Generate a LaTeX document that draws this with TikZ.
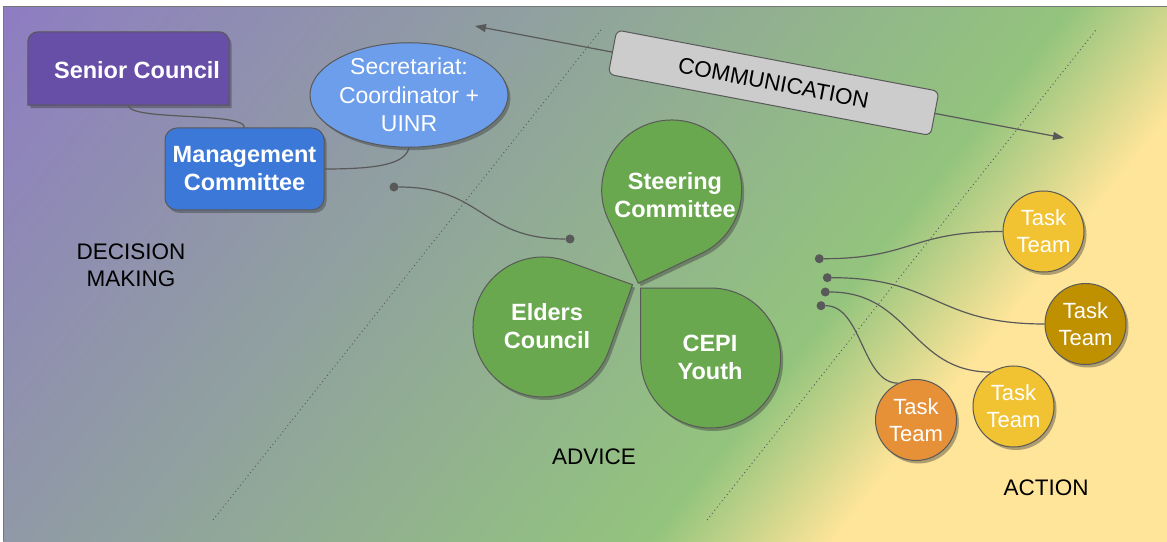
\documentclass[tikz,border=0pt]{standalone}
\usepackage{fontspec}
\setmainfont{Liberation Sans}
\usetikzlibrary{calc,shapes.geometric,shadows,arrows.meta}
\definecolor{bgpurple}{HTML}{8E7CC3}
\definecolor{bggreen}{HTML}{93C47D}
\definecolor{bgyellow}{HTML}{FFE599}
\definecolor{scpurple}{HTML}{674EA7}
\definecolor{mcblue}{HTML}{3C78D8}
\definecolor{secblue}{HTML}{6D9EEB}
\definecolor{leafgreen}{HTML}{6AA84F}
\definecolor{ttyellow}{HTML}{F1C232}
\definecolor{ttgold}{HTML}{BF9000}
\definecolor{ttorange}{HTML}{E69138}
\definecolor{linegray}{HTML}{595959}
\definecolor{boxgray}{HTML}{CCCCCC}
\definecolor{framegray}{HTML}{777777}
\pgfdeclarehorizontalshading{bgshade}{100bp}{color(0bp)=(bgpurple); color(25.57bp)=(bgpurple); color(58.58bp)=(bggreen); color(64.24bp)=(bgyellow); color(100bp)=(bgyellow)}
\begin{document}
\begin{tikzpicture}[x=1pt,y=1pt,
  shadowed/.style={drop shadow={shadow xshift=2.5pt,shadow yshift=-3pt,opacity=0.4,fill=black!80}},
  outline/.style={draw=linegray,line width=1pt},
  boldtext/.style={text=white,font=\fontsize{23.5}{28}\selectfont\bfseries,align=center},
  mcbox/.style={rectangle,rounded corners=12pt,outline,fill=mcblue,shadowed,minimum width=159pt,minimum height=82pt,inner sep=0pt,boldtext},
  secnode/.style={ellipse,outline,fill=secblue,shadowed,minimum width=170pt,minimum height=102pt,inner sep=0pt,text=white,font=\fontsize{23}{28.5}\selectfont,align=center},
  leaf/.style={outline,fill=leafgreen,shadowed},
  ttnode/.style={circle,outline,shadowed,minimum size=81pt,inner sep=0pt,text=white,font=\fontsize{22}{27}\selectfont,align=center},
  dotnode/.style={circle,fill=linegray,inner sep=0pt,minimum size=9pt},
  connector/.style={draw=linegray,line width=1.2pt},
  divider/.style={draw=linegray,line width=0.9pt,dash pattern=on 1pt off 3pt},
  labeltext/.style={text=black,font=\fontsize{22.5}{27}\selectfont,align=center},
  commbox/.style={rectangle,rounded corners=6pt,outline,fill=boxgray,minimum width=328pt,minimum height=45pt,inner sep=0pt,text=black,font=\fontsize{22.5}{27}\selectfont}
]
\useasboundingbox (0,0) rectangle (1167,541);
\fill[white] (0,0) rectangle (1167,541);
% background gradient
\begin{scope}
  \clip (3,0) rectangle (1167,534);
  \begin{scope}[transform canvas={rotate=-38.3}]
    \shade[shading=bgshade] (-350,-10) rectangle (930,1160);
  \end{scope}
\end{scope}
\draw[framegray,line width=1pt] (3,0) -- (3,534) -- (1167,534);

% dotted dividers
\coordinate (d1a) at (213,21);
\coordinate (d1b) at (601,511);
\coordinate (d2a) at (707,21);
\coordinate (d2b) at (1096,511);
\draw[divider] (d1a) -- (d1b);
\draw[divider] (d2a) -- (d2b);

% communication arrow
\coordinate (cl) at (475,515);
\coordinate (cr) at (1064,403);
\draw[connector,{Triangle[length=11pt,width=8pt]}-{Triangle[length=11pt,width=8pt]}] (cl) -- (cr)
  node[commbox,pos=0.507,sloped] (comm) {COMMUNICATION};

% Senior Council
\node[minimum width=201pt,minimum height=73pt,inner sep=0pt] (sc) at (128.5,472.5) {};
\draw[outline,fill=scpurple,shadowed] (sc.south west) -- ([yshift=-10pt]sc.north west)
  arc[start angle=180,end angle=90,radius=10pt] -- ([xshift=-10pt]sc.north east)
  arc[start angle=90,end angle=0,radius=10pt] -- (sc.south east) -- cycle;
\node[boldtext] (sct) at (137,471) {Senior Council};

% Management Committee
\node[mcbox] (mc) at (244.5,372) {Management\\Committee};

% Secretariat
\node[secnode] (sec) at (409,446) {Secretariat:\\Coordinator +\\UINR};

\draw[connector] (sc.south) .. controls +(0,-16) and +(0,16) .. (mc.north);
\draw[connector] (mc.east) .. controls +(55,0) and +(-4,-16) .. (sec.south);

% dots E-F
\node[dotnode] (dE) at (394,354) {};
\node[dotnode] (dF) at (570,302) {};
\draw[connector] (dE) .. controls +(90,0) and +(-90,0) .. (dF);

% teardrops
\coordinate (stc) at (671.7,351);
\coordinate (elc) at (543,214);
\coordinate (cec) at (710.7,183);
\draw[leaf] ($(stc)+(250.3:98.99)$) -- ++(385.3:70) arc[start angle=295.3,end angle=565.3,radius=70] -- cycle;
\draw[leaf] ($(elc)+(25.3:98.99)$) -- ++(160.3:70) arc[start angle=70.3,end angle=340.3,radius=70] -- cycle;
\draw[leaf] ($(cec)+(135:98.99)$) -- ++(270:70) arc[start angle=180,end angle=450,radius=70] -- cycle;
\node[boldtext] (stt) at (675,346) {Steering\\Committee};
\node[boldtext] (elt) at (547,215) {Elders\\Council};
\node[boldtext] (cet) at (710,184) {CEPI\\Youth};

% task teams
\node[ttnode,fill=ttyellow] (tt1) at (1043.5,309.5) {Task\\Team};
\node[ttnode,fill=ttgold] (tt2) at (1085.5,217) {Task\\Team};
\node[ttnode,fill=ttyellow] (tt3) at (1013.5,134.5) {Task\\Team};
\node[ttnode,fill=ttorange] (tt4) at (916,121) {Task\\Team};

\node[dotnode] (dA) at (819.3,282.3) {};
\node[dotnode] (dB) at (827.3,263.3) {};
\node[dotnode] (dC) at (825.3,249) {};
\node[dotnode] (dD) at (821,235.3) {};
\draw[connector] (dA) .. controls +(92,0) and +(-92,0) .. (tt1.west);
\draw[connector] (dB) .. controls +(110,0) and +(-110,0) .. (tt2.west);
\draw[connector] (dC) .. controls +(85,0) and +(-80,0) .. (tt3.123);
\draw[connector] (dD) .. controls +(41,0) and +(-36,0) .. (tt4.116);

% labels
\node[labeltext] (lbdm) at (131,275.5) {DECISION\\MAKING};
\node[labeltext] (lbadv) at (594,84) {ADVICE};
\node[labeltext] (lbact) at (1046,53) {ACTION};
\end{tikzpicture}
\end{document}
